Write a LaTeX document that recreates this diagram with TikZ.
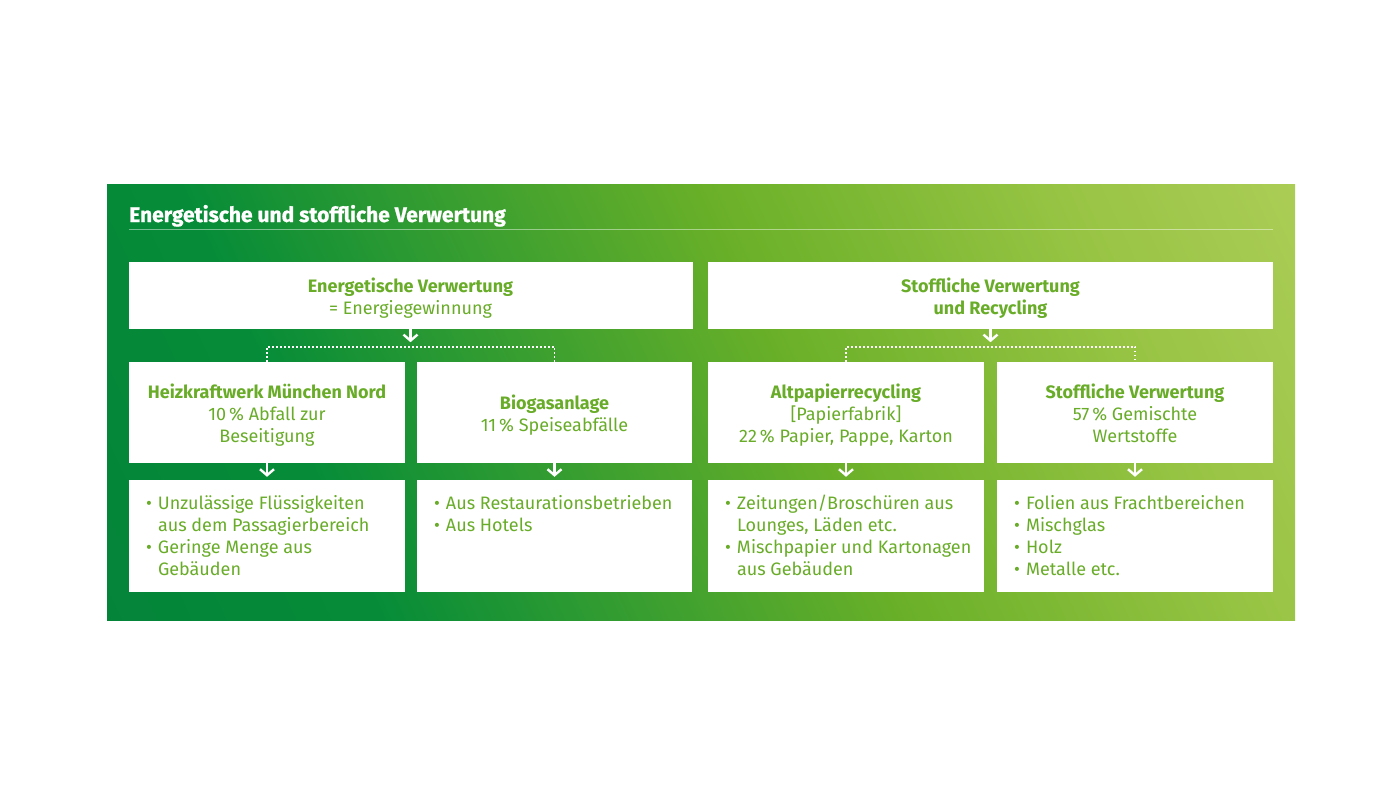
\documentclass[tikz,border=0pt]{standalone}
\usepackage{fontspec}
\setmainfont{Fira Sans}
\usetikzlibrary{arrows.meta}
\definecolor{txtgreen}{RGB}{104,172,40}
\definecolor{gA}{RGB}{0,122,58}
\definecolor{gB}{RGB}{6,140,56}
\definecolor{gC}{RGB}{106,176,40}
\definecolor{gD}{RGB}{152,196,68}
\definecolor{gE}{RGB}{200,218,112}
\pgfdeclarehorizontalshading{bggrad}{100bp}{color(0bp)=(gA); color(30bp)=(gB); color(55bp)=(gC); color(72bp)=(gD); color(100bp)=(gE)}
\tikzset{
  whitebox/.style={draw=none, fill=white, inner sep=0pt},
  hdtext/.style={text=txtgreen, align=center, font=\fontsize{18}{22}\selectfont},
  listtext/.style={text=txtgreen, align=left, anchor=north west, inner sep=0pt, font=\fontsize{18}{22}\selectfont},
  arr/.style={white, line width=2.4pt, -{Straight Barb[length=6pt,width=14pt]}},
  dotline/.style={white, line width=1.6pt, dash pattern=on 1.6pt off 2.4pt},
}
\newcommand{\bul}{\makebox[12pt][l]{•}}
\newcommand{\ind}{\hspace*{12pt}}
\begin{document}
\begin{tikzpicture}[x=1pt,y=-1pt]
\useasboundingbox (0,0) rectangle (1400,800);
\fill[white] (0,0) rectangle (1400,800);
\fill[shading=bggrad, shading angle=25] (107,184) rectangle (1295,620);
% title
\node[anchor=base west, inner sep=0pt, text=white, font=\fontsize{21}{22}\bfseries\addfontfeatures{FakeBold=1}] (title) at (129,222) {Energetische und stoffliche Verwertung};
\draw[white, opacity=0.45, line width=1.5pt] (129,229.5) -- (1273,229.5);
% top boxes
\node[whitebox, minimum width=564pt, minimum height=67pt] (t1) at (410.5,295.5) {};
\node[whitebox, minimum width=565pt, minimum height=67pt] (t2) at (990.5,295.5) {};
\node[hdtext] at ([yshift=-3pt]t1.center) {\textbf{Energetische Verwertung}\\= Energiegewinnung};
\node[hdtext] at ([yshift=-3pt]t2.center) {\textbf{Stoffliche Verwertung}\\\textbf{und Recycling}};
% middle boxes
\node[whitebox, minimum width=276pt, minimum height=101pt] (m1) at (267,412.5) {};
\node[whitebox, minimum width=275pt, minimum height=101pt] (m2) at (554.5,412.5) {};
\node[whitebox, minimum width=276pt, minimum height=101pt] (m3) at (846,412.5) {};
\node[whitebox, minimum width=276pt, minimum height=101pt] (m4) at (1135,412.5) {};
\node[hdtext] at ([yshift=-3pt]m1.center) {\textbf{Heizkraftwerk München Nord}\\10\,\% Abfall zur\\Beseitigung};
\node[hdtext] at ([yshift=-3pt]m2.center) {\textbf{Biogasanlage}\\11\,\% Speiseabfälle};
\node[hdtext] at ([yshift=-3pt]m3.center) {\textbf{Altpapierrecycling}\\{[}Papierfabrik{]}\\22\,\% Papier, Pappe, Karton};
\node[hdtext] at ([yshift=-1pt]m4.center) {\textbf{Stoffliche Verwertung}\\57\,\% Gemischte\\Wertstoffe};
% bottom boxes
\node[whitebox, minimum width=276pt, minimum height=112pt] (b1) at (267,536) {};
\node[whitebox, minimum width=275pt, minimum height=112pt] (b2) at (554.5,536) {};
\node[whitebox, minimum width=276pt, minimum height=112pt] (b3) at (846,536) {};
\node[whitebox, minimum width=276pt, minimum height=112pt] (b4) at (1135,536) {};
\node[listtext] (l1) at ([xshift=17pt,yshift=-15pt]b1.north west) {\bul Unzulässige Flüssigkeiten\\\ind aus dem Passagierbereich\\\bul Geringe Menge aus\\\ind Gebäuden};
\node[listtext] (l2) at ([xshift=17pt,yshift=-15pt]b2.north west) {\bul Aus Restaurationsbetrieben\\\bul Aus Hotels};
\node[listtext] (l3) at ([xshift=17pt,yshift=-15pt]b3.north west) {\bul Zeitungen/Broschüren aus\\\ind Lounges, Läden etc.\\\bul Mischpapier und Kartonagen\\\ind aus Gebäuden};
\node[listtext] (l4) at ([xshift=17pt,yshift=-15pt]b4.north west) {\bul Folien aus Frachtbereichen\\\bul Mischglas\\\bul Holz\\\bul Metalle etc.};
% connectors top -> dotted split
\coordinate (j1) at ([yshift=-13pt]t1.south);
\coordinate (j2) at ([yshift=-13pt]t2.south);
\draw[arr] (t1.south) -- (j1);
\draw[arr] (t2.south) -- (j2);
\draw[dotline] (m1.north) -- ++(0,-15) -| (m2.north);
\draw[dotline] (m3.north) -- ++(0,-15) -| (m4.north);
% middle -> bottom
\draw[arr, shorten >=3pt] (m1.south) -- (b1.north);
\draw[arr, shorten >=3pt] (m2.south) -- (b2.north);
\draw[arr, shorten >=3pt] (m3.south) -- (b3.north);
\draw[arr, shorten >=3pt] (m4.south) -- (b4.north);
\end{tikzpicture}
\end{document}
